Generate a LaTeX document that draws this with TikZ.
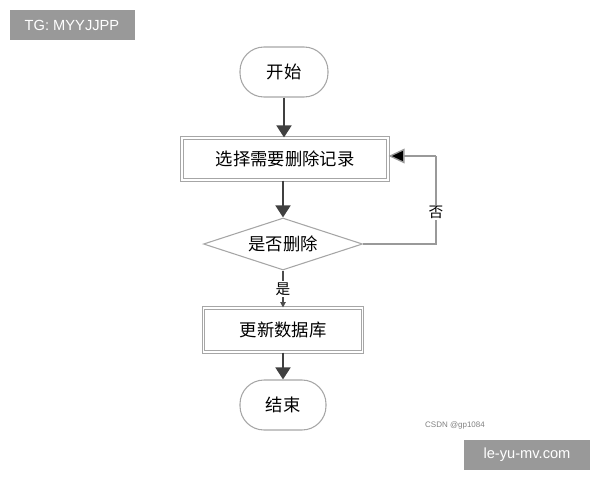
\documentclass[tikz,border=0pt]{standalone}
\usepackage{fontspec}
\setmainfont{Liberation Sans}
\newfontfamily\cjk{Noto Sans CJK SC}
\usetikzlibrary{shapes.geometric,arrows.meta}
\begin{document}
\begin{tikzpicture}[x=0.75pt,y=-0.75pt,
  box/.style={draw=gray!70,line width=0.8pt,fill=white,font=\cjk\fontsize{13}{13}\selectfont,inner sep=0pt},
  term/.style={box,rounded corners=18pt},
  flow/.style={draw=black!75,line width=2pt,-{Triangle[length=9pt,width=11pt]}},
  wm/.style={fill=black!40,text=white,font=\fontsize{11}{11}\selectfont,inner sep=0pt}]
\useasboundingbox (0,0) rectangle (600,480);
\node[wm,minimum width=125*0.75pt,minimum height=30*0.75pt] (tg) at (72,25) {TG: MYYJJPP};
\node[wm,minimum width=126*0.75pt,minimum height=30*0.75pt] (wm2) at (527,455) {le-yu-mv.com};
\node[text=black!50,font=\fontsize{6}{6}\selectfont] (csdn) at (455,425) {CSDN @gp1084};
\node[term,minimum width=88*0.75pt,minimum height=50*0.75pt] (start) at (284,72) {开始};
\node[box,minimum width=206*0.75pt,minimum height=42*0.75pt,double=white,double distance=1pt] (sel) at (285,159) {选择需要删除记录};
\node[box,diamond,aspect=3.06,minimum width=159*0.75pt,minimum height=52*0.75pt] (dec) at (283,244) {是否删除};
\node[box,minimum width=159*0.75pt,minimum height=44*0.75pt,double=white,double distance=1pt] (upd) at (283,330) {更新数据库};
\node[term,minimum width=86*0.75pt,minimum height=50*0.75pt] (end) at (283,405) {结束};
\draw[flow] (start) -- (sel.north -| start);
\draw[flow] (sel.south -| dec.north) -- (dec.north);
\draw[flow] (upd.south -| end.north) -- (end.north);
\draw[draw=black!70,line width=0.8pt,-{Triangle[length=4pt,width=4pt]}] (dec.south) -- node[fill=white,font=\cjk\fontsize{11}{11}\selectfont,inner sep=1pt]{是} (upd.north -| dec.south);
\coordinate (c1) at (436,244);
\coordinate (c2) at (436,156);
\draw[draw=gray!80,line width=1pt] (dec.east) -- (c1) -- node[pos=0.36,fill=white,font=\cjk\fontsize{11}{11}\selectfont,inner sep=1pt]{否} (c2);
\draw[draw=gray!80,line width=1pt,-{Triangle[length=12pt,width=11pt,fill=black]}] (c2) -- (sel.east |- c2);
\end{tikzpicture}
\end{document}
